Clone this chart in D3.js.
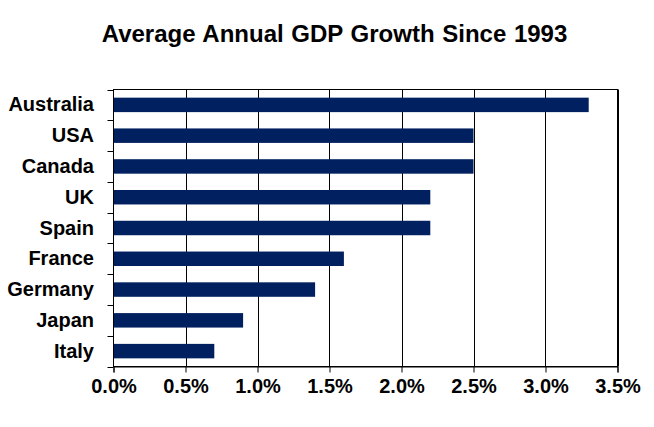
<!DOCTYPE html>
<html>
<head>
<meta charset="utf-8">
<script src="https://cdn.jsdelivr.net/npm/d3@7"></script>
<style>
  html, body { margin: 0; padding: 0; background: #fff; }
  svg { display: block; font-family: "Liberation Sans", Arial, sans-serif; }
</style>
</head>
<body>
<svg id="chart" width="654" height="427"></svg>
<script>
const categories = ["Australia", "USA", "Canada", "UK", "Spain", "France", "Germany", "Japan", "Italy"];
const growth = [3.3, 2.5, 2.5, 2.2, 2.2, 1.6, 1.4, 0.9, 0.7];
const xTicks = [0, 0.5, 1.0, 1.5, 2.0, 2.5, 3.0, 3.5];
const title = "Average Annual GDP Growth Since 1993";

(function () {
const svg = d3.select("#chart");
const pL = 113.5, pR = 617.5, pT = 89.5, pB = 366.5;

const x = d3.scaleLinear().domain([0, 3.5]).range([pL, pR]);
const y = d3.scaleBand().domain(categories).range([pT, pB]).paddingInner(0.53).paddingOuter(0.265);

// gridlines
svg.append("g").selectAll("line").data(xTicks.slice(1)).join("line")
  .attr("x1", d => Math.round(x(d)) + 0.5).attr("x2", d => Math.round(x(d)) + 0.5)
  .attr("y1", pT).attr("y2", pB)
  .attr("stroke", "#000").attr("stroke-width", 1);

// plot frame
svg.append("rect")
  .attr("x", pL).attr("y", pT).attr("width", pR - pL).attr("height", pB - pT)
  .attr("fill", "none").attr("stroke", "#000").attr("stroke-width", 1);

// bars
svg.append("g").selectAll("rect").data(categories).join("rect")
  .attr("x", pL)
  .attr("y", d => y(d))
  .attr("width", (d, i) => x(growth[i]) - pL)
  .attr("height", y.bandwidth())
  .attr("fill", "#00205f");

// x axis
const xAxis = d3.axisBottom(x).tickValues(xTicks).tickSize(6).tickPadding(6)
  .tickFormat(d => d.toFixed(1) + "%");
const gx = svg.append("g").attr("transform", `translate(0,${pB})`).call(xAxis);
gx.select(".domain").attr("stroke", "#000");
gx.selectAll(".tick line").attr("stroke", "#000");
gx.selectAll("text").attr("font-size", 20).attr("font-weight", "bold").attr("fill", "#000")
  .attr("font-family", "Liberation Sans, Arial, sans-serif");

// y axis ticks at band boundaries
const boundaries = d3.range(categories.length + 1).map(i => pT + i * (pB - pT) / categories.length);
svg.append("g").selectAll("line").data(boundaries).join("line")
  .attr("x1", pL - 6).attr("x2", pL)
  .attr("y1", d => Math.round(d) + 0.5).attr("y2", d => Math.round(d) + 0.5)
  .attr("stroke", "#000");
svg.append("line").attr("x1", pL).attr("x2", pL).attr("y1", pT).attr("y2", pB).attr("stroke", "#000");

// category labels
svg.append("g").selectAll("text").data(categories).join("text")
  .attr("x", 94)
  .attr("y", d => y(d) + y.bandwidth() / 2)
  .attr("dy", "0.33em")
  .attr("text-anchor", "end")
  .attr("font-size", 20).attr("font-weight", "bold").attr("fill", "#000")
  .text(d => d);

// title
svg.append("text")
  .attr("x", 334.5).attr("y", 42)
  .attr("text-anchor", "middle")
  .attr("font-size", 24).attr("font-weight", "bold").attr("fill", "#000")
  .attr("word-spacing", 1)
  .text(title);
})();
</script>
</body>
</html>
